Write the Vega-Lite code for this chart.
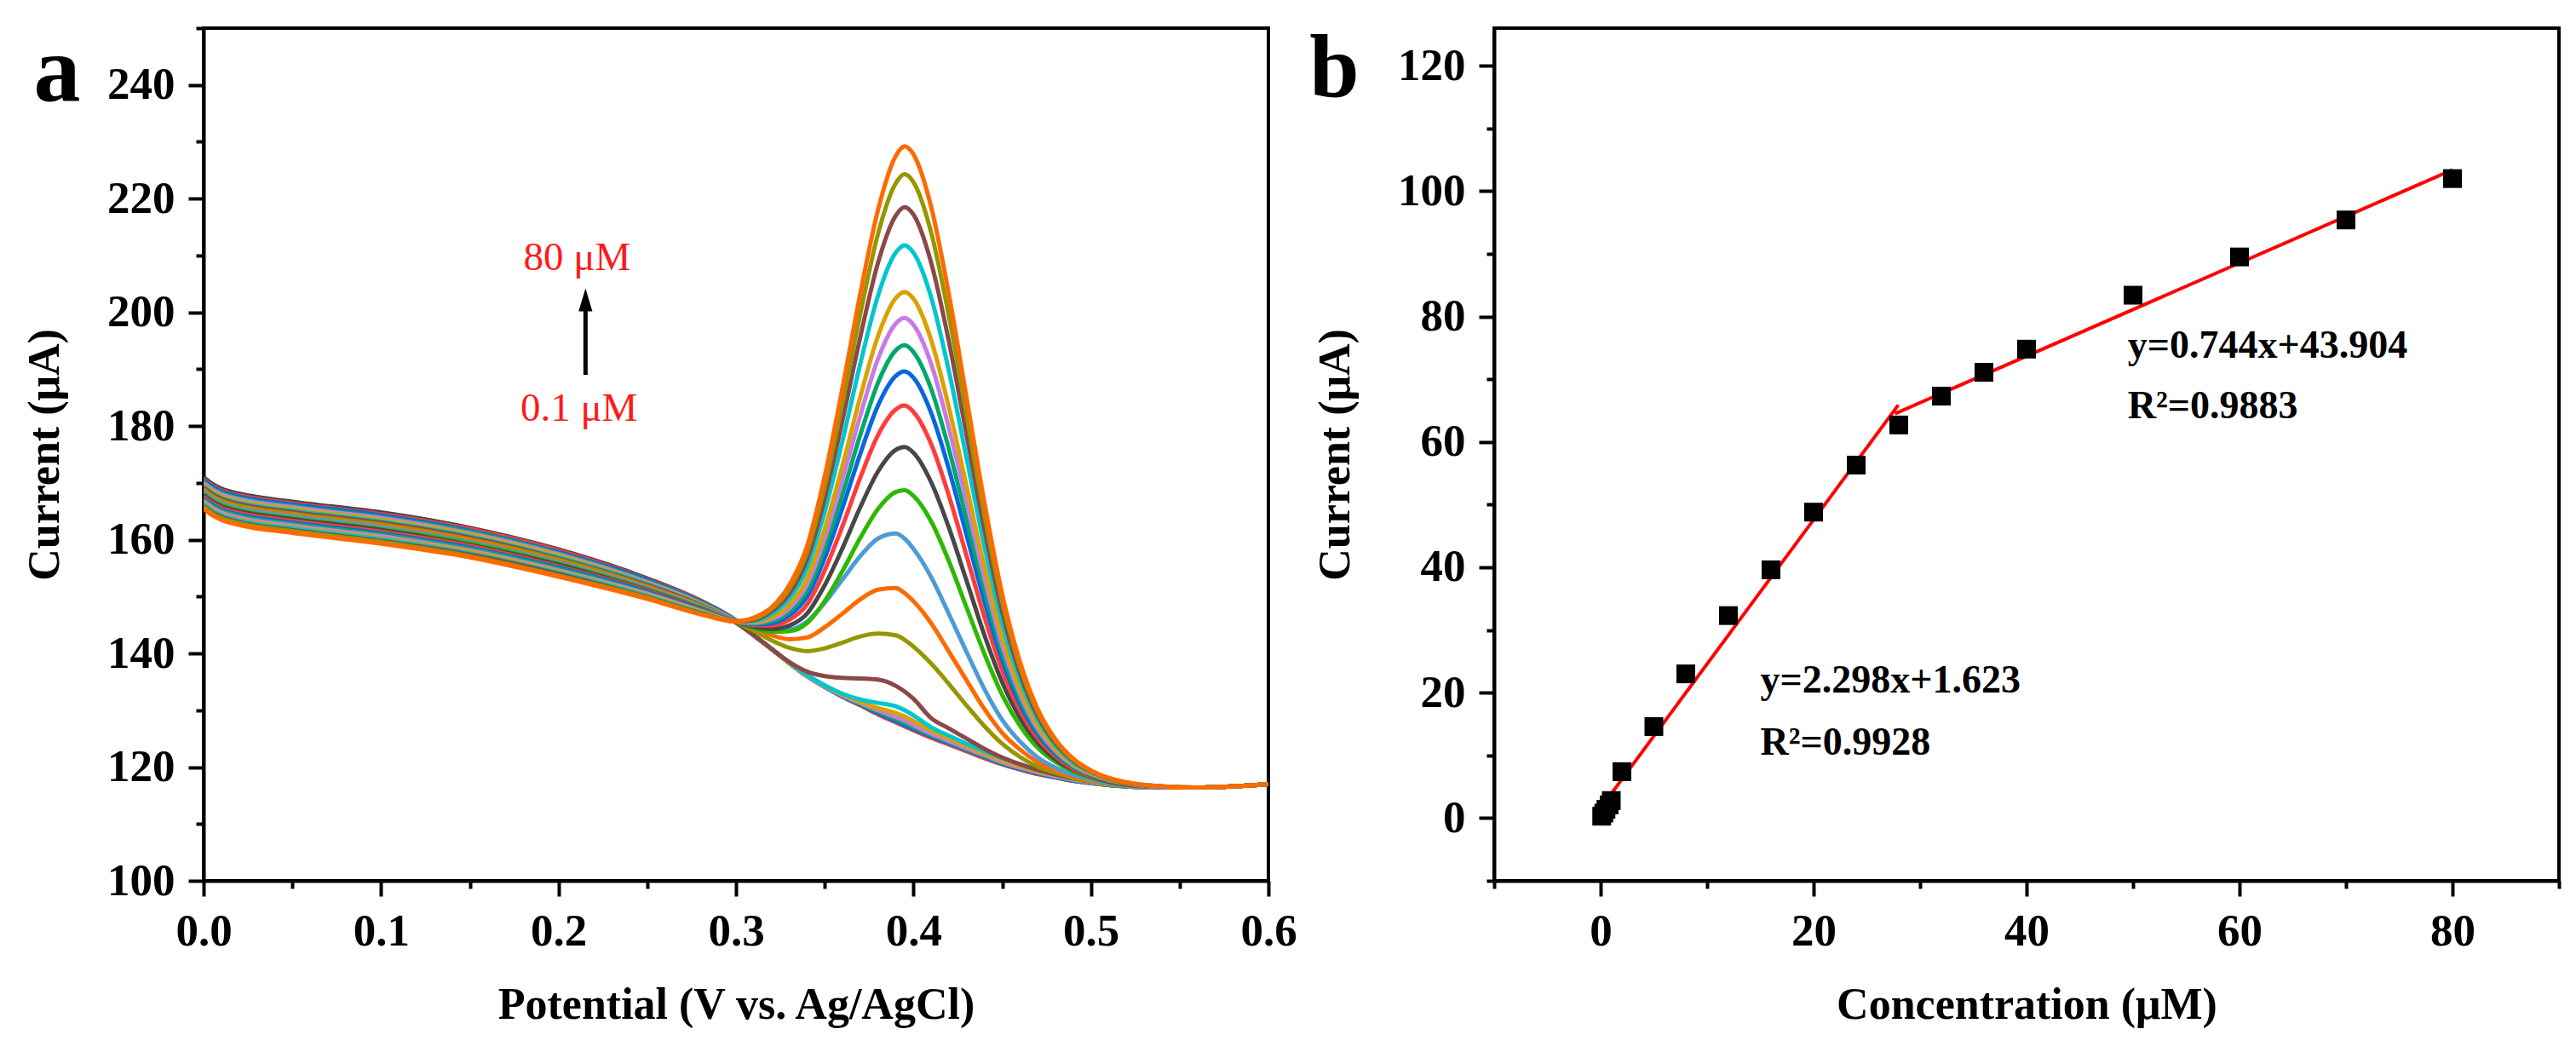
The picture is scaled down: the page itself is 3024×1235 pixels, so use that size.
{
  "$schema": "https://vega.github.io/schema/vega-lite/v6.json",
  "autosize": {"type": "pad"},
  "padding": {"left": 24, "top": 5, "right": 5, "bottom": 5},
  "background": "white",
  "config": {
    "view": {"stroke": "black", "strokeWidth": 4},
    "font": "Liberation Serif",
    "axis": {
      "grid": false,
      "domainColor": "black",
      "domainWidth": 4,
      "tickColor": "black",
      "tickWidth": 4,
      "labelFont": "Liberation Serif",
      "labelFontSize": 53,
      "labelFontWeight": "bold",
      "labelColor": "black",
      "titleFont": "Liberation Serif",
      "titleFontSize": 52,
      "titleFontWeight": "bold",
      "titleColor": "black",
      "labelFlush": false,
      "labelOverlap": false
    },
    "axisX": {"labelPadding": 15, "titlePadding": 34},
    "axisY": {"labelPadding": 16, "titlePadding": 46}
  },
  "datasets": {
    "curves": [
      {"x":0,"c00":171.0,"c01":170.7,"c02":170.5,"c03":170.2,"c04":170.0,"c05":169.7,"c06":169.4,"c07":169.2,"c08":168.9,"c09":168.6,"c10":168.4,"c11":168.1,"c12":167.9,"c13":167.6,"c14":167.3,"c15":167.1,"c16":166.8,"c17":166.5,"c18":166.3,"c19":166.0,"c20":165.8,"c21":165.5},
      {"x":0.005,"c00":169.8,"c01":169.5,"c02":169.3,"c03":169.0,"c04":168.8,"c05":168.5,"c06":168.2,"c07":168.0,"c08":167.7,"c09":167.4,"c10":167.2,"c11":166.9,"c12":166.7,"c13":166.4,"c14":166.1,"c15":165.9,"c16":165.6,"c17":165.3,"c18":165.1,"c19":164.8,"c20":164.6,"c21":164.3},
      {"x":0.01,"c00":169.0,"c01":168.7,"c02":168.5,"c03":168.2,"c04":168.0,"c05":167.7,"c06":167.4,"c07":167.2,"c08":166.9,"c09":166.6,"c10":166.4,"c11":166.1,"c12":165.9,"c13":165.6,"c14":165.3,"c15":165.1,"c16":164.8,"c17":164.5,"c18":164.3,"c19":164.0,"c20":163.8,"c21":163.5},
      {"x":0.02,"c00":168.1,"c01":167.8,"c02":167.6,"c03":167.3,"c04":167.1,"c05":166.8,"c06":166.5,"c07":166.3,"c08":166.0,"c09":165.7,"c10":165.5,"c11":165.2,"c12":165.0,"c13":164.7,"c14":164.4,"c15":164.2,"c16":163.9,"c17":163.6,"c18":163.4,"c19":163.1,"c20":162.9,"c21":162.6},
      {"x":0.05,"c00":166.7,"c01":166.4,"c02":166.2,"c03":165.9,"c04":165.7,"c05":165.4,"c06":165.1,"c07":164.9,"c08":164.6,"c09":164.3,"c10":164.1,"c11":163.8,"c12":163.6,"c13":163.3,"c14":163.0,"c15":162.8,"c16":162.5,"c17":162.2,"c18":162.0,"c19":161.7,"c20":161.5,"c21":161.2},
      {"x":0.1,"c00":164.8,"c01":164.5,"c02":164.3,"c03":164.0,"c04":163.8,"c05":163.5,"c06":163.2,"c07":163.0,"c08":162.7,"c09":162.4,"c10":162.2,"c11":161.9,"c12":161.7,"c13":161.4,"c14":161.1,"c15":160.9,"c16":160.6,"c17":160.3,"c18":160.1,"c19":159.8,"c20":159.6,"c21":159.3},
      {"x":0.15,"c00":162.1,"c01":161.9,"c02":161.6,"c03":161.4,"c04":161.1,"c05":160.9,"c06":160.6,"c07":160.4,"c08":160.1,"c09":159.9,"c10":159.6,"c11":159.4,"c12":159.1,"c13":158.9,"c14":158.6,"c15":158.4,"c16":158.1,"c17":157.9,"c18":157.6,"c19":157.4,"c20":157.1,"c21":156.9},
      {"x":0.2,"c00":158.3,"c01":158.1,"c02":157.8,"c03":157.6,"c04":157.4,"c05":157.2,"c06":156.9,"c07":156.7,"c08":156.5,"c09":156.2,"c10":156.0,"c11":155.8,"c12":155.6,"c13":155.3,"c14":155.1,"c15":154.9,"c16":154.6,"c17":154.4,"c18":154.2,"c19":154.0,"c20":153.7,"c21":153.5},
      {"x":0.25,"c00":153.2,"c01":153.0,"c02":152.9,"c03":152.7,"c04":152.5,"c05":152.3,"c06":152.2,"c07":152.0,"c08":151.8,"c09":151.7,"c10":151.5,"c11":151.3,"c12":151.1,"c13":151.0,"c14":150.8,"c15":150.6,"c16":150.5,"c17":150.3,"c18":150.1,"c19":149.9,"c20":149.8,"c21":149.6},
      {"x":0.28,"c00":149.3,"c01":149.2,"c02":149.1,"c03":149.0,"c04":148.8,"c05":148.7,"c06":148.6,"c07":148.5,"c08":148.4,"c09":148.3,"c10":148.2,"c11":148.0,"c12":147.9,"c13":147.8,"c14":147.7,"c15":147.6,"c16":147.5,"c17":147.4,"c18":147.2,"c19":147.1,"c20":147.0,"c21":146.9},
      {"x":0.3,"c00":145.8,"c01":145.7,"c02":145.7,"c03":145.6,"c04":145.6,"c05":145.5,"c06":145.5,"c07":145.4,"c08":145.6,"c09":145.7,"c10":145.8,"c11":145.6,"c12":145.6,"c13":145.7,"c14":145.6,"c15":145.6,"c16":145.6,"c17":145.6,"c18":145.6,"c19":145.6,"c20":145.7,"c21":145.6},
      {"x":0.31,"c00":143.2,"c01":143.2,"c02":143.2,"c03":143.2,"c04":143.2,"c05":143.2,"c06":143.2,"c07":143.2,"c08":144.0,"c09":144.4,"c10":144.9,"c11":144.4,"c12":144.7,"c13":144.9,"c14":145.1,"c15":145.2,"c16":145.4,"c17":145.5,"c18":145.7,"c19":145.9,"c20":146.1,"c21":146.3},
      {"x":0.32,"c00":140.8,"c01":140.8,"c02":140.8,"c03":140.8,"c04":140.8,"c05":140.8,"c06":140.8,"c07":140.8,"c08":142.3,"c09":143.2,"c10":144.1,"c11":143.8,"c12":144.3,"c13":144.9,"c14":145.3,"c15":145.6,"c16":146.0,"c17":146.3,"c18":146.9,"c19":147.4,"c20":147.8,"c21":148.1},
      {"x":0.33,"c00":138.3,"c01":138.3,"c02":138.3,"c03":138.3,"c04":138.3,"c05":138.3,"c06":138.4,"c07":138.5,"c08":141.0,"c09":142.5,"c10":144.2,"c11":143.9,"c12":144.9,"c13":145.9,"c14":146.7,"c15":147.3,"c16":147.9,"c17":148.5,"c18":149.6,"c19":150.5,"c20":151.3,"c21":152.0},
      {"x":0.34,"c00":136.0,"c01":136.0,"c02":136.0,"c03":136.0,"c04":136.0,"c05":136.1,"c06":136.2,"c07":136.8,"c08":140.4,"c09":142.8,"c10":145.6,"c11":145.3,"c12":147.0,"c13":148.6,"c14":150.0,"c15":151.0,"c16":152.1,"c17":153.1,"c18":155.0,"c19":156.5,"c20":157.8,"c21":158.8},
      {"x":0.35,"c00":134.1,"c01":134.1,"c02":134.1,"c03":134.1,"c04":134.2,"c05":134.3,"c06":134.4,"c07":136.0,"c08":140.9,"c09":144.6,"c10":148.9,"c11":149.2,"c12":152.0,"c13":154.6,"c14":156.8,"c15":158.5,"c16":160.2,"c17":161.9,"c18":164.9,"c19":167.3,"c20":169.4,"c21":171.2},
      {"x":0.36,"c00":132.4,"c01":132.4,"c02":132.4,"c03":132.5,"c04":132.6,"c05":132.7,"c06":132.9,"c07":135.7,"c08":141.9,"c09":147.0,"c10":153.0,"c11":154.5,"c12":158.5,"c13":162.4,"c14":165.6,"c15":168.0,"c16":170.6,"c17":173.0,"c18":177.4,"c19":181.0,"c20":184.1,"c21":186.7},
      {"x":0.37,"c00":130.9,"c01":130.9,"c02":131.0,"c03":131.1,"c04":131.3,"c05":131.5,"c06":131.9,"c07":135.6,"c08":143.0,"c09":149.5,"c10":157.1,"c11":160.3,"c12":165.7,"c13":170.9,"c14":175.1,"c15":178.4,"c16":181.8,"c17":185.1,"c18":190.9,"c19":195.6,"c20":199.7,"c21":203.2},
      {"x":0.38,"c00":129.3,"c01":129.3,"c02":129.5,"c03":129.7,"c04":130.0,"c05":130.4,"c06":131.3,"c07":135.4,"c08":143.5,"c09":151.2,"c10":160.2,"c11":165.4,"c12":172.0,"c13":178.4,"c14":183.6,"c15":187.6,"c16":191.8,"c17":195.8,"c18":202.9,"c19":208.7,"c20":213.8,"c21":218.0},
      {"x":0.39,"c00":127.9,"c01":127.9,"c02":128.1,"c03":128.4,"c04":128.8,"c05":129.5,"c06":130.7,"c07":134.3,"c08":143.2,"c09":151.5,"c10":161.1,"c11":168.4,"c12":175.8,"c13":182.9,"c14":188.8,"c15":193.3,"c16":198.0,"c17":202.5,"c18":210.5,"c19":217.0,"c20":222.7,"c21":227.5},
      {"x":0.395,"c00":127.2,"c01":127.2,"c02":127.4,"c03":127.7,"c04":128.2,"c05":128.9,"c06":130.0,"c07":133.3,"c08":142.4,"c09":150.6,"c10":160.2,"c11":168.7,"c12":176.3,"c13":183.6,"c14":189.6,"c15":194.2,"c16":199.0,"c17":203.6,"c18":211.8,"c19":218.5,"c20":224.3,"c21":229.2},
      {"x":0.4,"c00":126.5,"c01":126.5,"c02":126.7,"c03":127.0,"c04":127.4,"c05":128.1,"c06":129.1,"c07":132.0,"c08":141.2,"c09":149.2,"c10":158.4,"c11":167.7,"c12":175.3,"c13":182.5,"c14":188.5,"c15":193.0,"c16":197.8,"c17":202.4,"c18":210.5,"c19":217.2,"c20":222.9,"c21":227.8},
      {"x":0.41,"c00":125.2,"c01":125.2,"c02":125.4,"c03":125.6,"c04":125.9,"c05":126.4,"c06":127.0,"c07":128.6,"c08":138.2,"c09":145.3,"c10":153.4,"c11":163.2,"c12":170.1,"c13":176.8,"c14":182.3,"c15":186.5,"c16":190.9,"c17":195.1,"c18":202.6,"c19":208.7,"c20":214.0,"c21":218.5},
      {"x":0.42,"c00":124.0,"c01":124.0,"c02":124.2,"c03":124.4,"c04":124.6,"c05":125.0,"c06":125.5,"c07":126.8,"c08":134.6,"c09":140.3,"c10":146.9,"c11":156.2,"c12":162.1,"c13":167.7,"c14":172.4,"c15":175.9,"c16":179.6,"c17":183.2,"c18":189.6,"c19":194.8,"c20":199.3,"c21":203.1},
      {"x":0.43,"c00":122.8,"c01":122.8,"c02":123.0,"c03":123.1,"c04":123.3,"c05":123.7,"c06":124.1,"c07":125.0,"c08":130.8,"c09":135.2,"c10":140.2,"c11":148.0,"c12":152.7,"c13":157.1,"c14":160.7,"c15":163.5,"c16":166.5,"c17":169.3,"c18":174.2,"c19":178.3,"c20":181.8,"c21":184.8},
      {"x":0.44,"c00":121.6,"c01":121.6,"c02":121.8,"c03":121.9,"c04":122.1,"c05":122.4,"c06":122.8,"c07":123.2,"c08":127.2,"c09":130.2,"c10":133.7,"c11":139.9,"c12":143.2,"c13":146.4,"c14":149.1,"c15":151.1,"c16":153.2,"c17":155.2,"c18":158.8,"c19":161.8,"c20":164.3,"c21":166.5},
      {"x":0.45,"c00":120.5,"c01":120.5,"c02":120.6,"c03":120.7,"c04":120.9,"c05":121.2,"c06":121.6,"c07":121.7,"c08":124.1,"c09":126.0,"c10":128.3,"c11":132.7,"c12":134.9,"c13":137.0,"c14":138.8,"c15":140.1,"c16":141.5,"c17":142.9,"c18":145.3,"c19":147.3,"c20":149.0,"c21":150.4},
      {"x":0.46,"c00":119.6,"c01":119.6,"c02":119.7,"c03":119.8,"c04":119.9,"c05":120.2,"c06":120.5,"c07":120.5,"c08":121.8,"c09":123.1,"c10":124.5,"c11":127.3,"c12":128.7,"c13":130.0,"c14":131.1,"c15":132.0,"c16":132.9,"c17":133.7,"c18":135.3,"c19":136.5,"c20":137.6,"c21":138.5},
      {"x":0.47,"c00":118.8,"c01":118.8,"c02":118.9,"c03":119.0,"c04":119.1,"c05":119.3,"c06":119.5,"c07":119.5,"c08":120.1,"c09":120.9,"c10":121.7,"c11":123.4,"c12":124.3,"c13":125.1,"c14":125.8,"c15":126.3,"c16":126.8,"c17":127.4,"c18":128.3,"c19":129.0,"c20":129.7,"c21":130.2},
      {"x":0.48,"c00":118.2,"c01":118.2,"c02":118.2,"c03":118.3,"c04":118.4,"c05":118.6,"c06":118.7,"c07":118.7,"c08":119.0,"c09":119.4,"c10":119.9,"c11":120.9,"c12":121.4,"c13":121.9,"c14":122.3,"c15":122.6,"c16":122.9,"c17":123.2,"c18":123.8,"c19":124.2,"c20":124.6,"c21":124.9},
      {"x":0.49,"c00":117.6,"c01":117.6,"c02":117.6,"c03":117.7,"c04":117.8,"c05":117.9,"c06":118.0,"c07":118.0,"c08":118.1,"c09":118.3,"c10":118.6,"c11":119.2,"c12":119.5,"c13":119.7,"c14":120.0,"c15":120.1,"c16":120.3,"c17":120.5,"c18":120.8,"c19":121.1,"c20":121.3,"c21":121.5},
      {"x":0.5,"c00":117.2,"c01":117.2,"c02":117.2,"c03":117.2,"c04":117.3,"c05":117.4,"c06":117.5,"c07":117.5,"c08":117.5,"c09":117.6,"c10":117.8,"c11":118.1,"c12":118.3,"c13":118.4,"c14":118.6,"c15":118.7,"c16":118.8,"c17":118.9,"c18":119.1,"c19":119.2,"c20":119.3,"c21":119.4},
      {"x":0.52,"c00":116.6,"c01":116.6,"c02":116.6,"c03":116.6,"c04":116.7,"c05":116.7,"c06":116.8,"c07":116.9,"c08":116.7,"c09":116.7,"c10":116.8,"c11":116.9,"c12":116.9,"c13":117.0,"c14":117.0,"c15":117.1,"c16":117.1,"c17":117.1,"c18":117.2,"c19":117.2,"c20":117.3,"c21":117.3},
      {"x":0.54,"c00":116.4,"c01":116.4,"c02":116.4,"c03":116.4,"c04":116.4,"c05":116.4,"c06":116.5,"c07":116.5,"c08":116.4,"c09":116.4,"c10":116.4,"c11":116.5,"c12":116.5,"c13":116.5,"c14":116.5,"c15":116.5,"c16":116.5,"c17":116.6,"c18":116.6,"c19":116.6,"c20":116.6,"c21":116.6},
      {"x":0.56,"c00":116.4,"c01":116.4,"c02":116.4,"c03":116.4,"c04":116.4,"c05":116.4,"c06":116.4,"c07":116.4,"c08":116.4,"c09":116.4,"c10":116.4,"c11":116.4,"c12":116.4,"c13":116.4,"c14":116.4,"c15":116.4,"c16":116.4,"c17":116.4,"c18":116.4,"c19":116.4,"c20":116.4,"c21":116.4},
      {"x":0.58,"c00":116.6,"c01":116.6,"c02":116.6,"c03":116.6,"c04":116.6,"c05":116.6,"c06":116.6,"c07":116.6,"c08":116.6,"c09":116.6,"c10":116.6,"c11":116.6,"c12":116.6,"c13":116.6,"c14":116.6,"c15":116.6,"c16":116.6,"c17":116.6,"c18":116.6,"c19":116.6,"c20":116.6,"c21":116.6},
      {"x":0.6,"c00":117.0,"c01":117.0,"c02":117.0,"c03":117.0,"c04":117.0,"c05":117.0,"c06":117.0,"c07":117.0,"c08":117.0,"c09":117.0,"c10":117.0,"c11":117.0,"c12":117.0,"c13":117.0,"c14":117.0,"c15":117.0,"c16":117.0,"c17":117.0,"c18":117.0,"c19":117.0,"c20":117.0,"c21":117.0}
    ],
    "arrow": [{"x": 0.2152, "y": 189.0, "y2": 200.5}],
    "arrowHead": [{"x": 0.2152, "y": 202.2}],
    "notesA": [
      {"x": 0.2104, "y": 207.5, "label": "80 μM"},
      {"x": 0.2115, "y": 180.9, "label": "0.1 μM"}
    ],
    "letterA": [{"x": -0.0826, "y": 237.3, "label": "a"}],
    "points": [
      {"x": 0.1, "y": 0.3}, {"x": 0.3, "y": 0.8}, {"x": 0.5, "y": 1.4}, {"x": 0.8, "y": 2.1},
      {"x": 1, "y": 2.8}, {"x": 2, "y": 7.4}, {"x": 5, "y": 14.6}, {"x": 8, "y": 23.0},
      {"x": 12, "y": 32.3}, {"x": 16, "y": 39.6}, {"x": 20, "y": 48.8}, {"x": 24, "y": 56.3},
      {"x": 28, "y": 62.7}, {"x": 32, "y": 67.3}, {"x": 36, "y": 71.1}, {"x": 40, "y": 74.8},
      {"x": 50, "y": 83.4}, {"x": 60, "y": 89.5}, {"x": 70, "y": 95.4}, {"x": 80, "y": 102.0}
    ],
    "fits": [
      {"seg": "low", "x": 0.05, "y": 1.7},
      {"seg": "low", "x": 27.96, "y": 65.9},
      {"seg": "high", "x": 27.65, "y": 64.5},
      {"seg": "high", "x": 80.0, "y": 103.4}
    ],
    "notesB": [
      {"x": 49.5, "y": 75.3, "label": "y=0.744x+43.904"},
      {"x": 49.5, "y": 65.7, "label": "R²=0.9883"},
      {"x": 15.0, "y": 21.9, "label": "y=2.298x+1.623"},
      {"x": 15.0, "y": 12.0, "label": "R²=0.9928"}
    ],
    "letterB": [{"x": -25, "y": 115, "label": "b"}]
  },
  "spacing": 265,
  "bounds": "flush",
  "hconcat": [
    {
      "width": 1250,
      "height": 1001,
      "encoding": {
        "x": {
          "field": "x",
          "type": "quantitative",
          "scale": {"domain": [0, 0.6], "nice": false, "zero": false},
          "axis": {
            "title": "Potential (V vs. Ag/AgCl)",
            "values": [0, 0.05, 0.1, 0.15, 0.2, 0.25, 0.3, 0.35, 0.4, 0.45, 0.5, 0.55, 0.6],
            "format": ".1f",
            "labelExpr": "abs(round(datum.value * 100)) % 10 === 0 ? datum.label : ''",
            "tickSize": {"condition": {"test": "abs(round(datum.value * 100)) % 10 === 0", "value": 18}, "value": 9}
          }
        },
        "y": {
          "field": "y",
          "type": "quantitative",
          "scale": {"domain": [100, 250], "nice": false, "zero": false},
          "axis": {
            "title": "Current (μA)",
            "values": [100, 110, 120, 130, 140, 150, 160, 170, 180, 190, 200, 210, 220, 230, 240, 250],
            "labelExpr": "datum.value % 20 === 0 ? datum.label : ''",
            "tickSize": {"condition": {"test": "datum.value % 20 === 0", "value": 18}, "value": 9}
          }
        }
      },
      "layer": [
        {
          "data": {"name": "curves"},
          "transform": [
            {"fold": ["c00","c01","c02","c03","c04","c05","c06","c07","c08","c09","c10","c11","c12","c13","c14","c15","c16","c17","c18","c19","c20","c21"], "as": ["key", "y"]}
          ],
          "mark": {"type": "line", "strokeWidth": 5, "interpolate": "monotone", "clip": true},
          "encoding": {
            "color": {
              "field": "key",
              "type": "nominal",
              "legend": null,
              "scale": {
                "domain": ["c00","c01","c02","c03","c04","c05","c06","c07","c08","c09","c10","c11","c12","c13","c14","c15","c16","c17","c18","c19","c20","c21"],
                "range": ["#474747","#ff3c3c","#0a66dd","#00a86b","#c77be3","#dba100","#00c6cf","#8c4848","#969600","#ff6a00","#4d9bd6","#2eb800","#474747","#ff3c3c","#0a66dd","#00a86b","#c77be3","#dba100","#00c6cf","#8c4848","#969600","#ff6a00"]
              }
            }
          }
        },
        {
          "data": {"name": "arrow"},
          "mark": {"type": "rule", "color": "black", "strokeWidth": 5},
          "encoding": {"y2": {"field": "y2"}}
        },
        {
          "data": {"name": "arrowHead"},
          "mark": {"type": "point", "shape": "M0,-1L0.6,1L-0.6,1Z", "filled": true, "color": "black", "size": 729, "opacity": 1}
        },
        {
          "data": {"name": "notesA"},
          "mark": {"type": "text", "color": "#ff1a1a", "fontSize": 47, "font": "Liberation Serif", "baseline": "alphabetic", "align": "center"},
          "encoding": {"text": {"field": "label"}}
        },
        {
          "data": {"name": "letterA"},
          "mark": {"type": "text", "color": "black", "fontSize": 110, "fontWeight": "bold", "font": "Liberation Serif", "baseline": "alphabetic", "align": "center"},
          "encoding": {"text": {"field": "label"}}
        }
      ]
    },
    {
      "width": 1250,
      "height": 1001,
      "encoding": {
        "x": {
          "field": "x",
          "type": "quantitative",
          "scale": {"domain": [-10, 90], "nice": false, "zero": false},
          "axis": {
            "title": "Concentration (μM)",
            "values": [-10, 0, 10, 20, 30, 40, 50, 60, 70, 80, 90],
            "labelExpr": "datum.value % 20 === 0 ? datum.label : ''",
            "tickSize": {"condition": {"test": "datum.value % 20 === 0", "value": 18}, "value": 9}
          }
        },
        "y": {
          "field": "y",
          "type": "quantitative",
          "scale": {"domain": [-10, 126], "nice": false, "zero": false},
          "axis": {
            "title": "Current (μA)",
            "values": [-10, 0, 10, 20, 30, 40, 50, 60, 70, 80, 90, 100, 110, 120],
            "labelExpr": "datum.value % 20 === 0 ? datum.label : ''",
            "tickSize": {"condition": {"test": "datum.value % 20 === 0", "value": 18}, "value": 9}
          }
        }
      },
      "layer": [
        {
          "data": {"name": "fits"},
          "mark": {"type": "line", "color": "#ff0000", "strokeWidth": 4},
          "encoding": {"detail": {"field": "seg"}}
        },
        {
          "data": {"name": "points"},
          "mark": {"type": "point", "shape": "square", "filled": true, "color": "black", "size": 484, "opacity": 1}
        },
        {
          "data": {"name": "notesB"},
          "mark": {"type": "text", "color": "black", "fontSize": 46, "fontWeight": "bold", "font": "Liberation Serif", "baseline": "middle", "align": "left"},
          "encoding": {"text": {"field": "label"}}
        },
        {
          "data": {"name": "letterB"},
          "mark": {"type": "text", "color": "black", "fontSize": 105, "fontWeight": "bold", "font": "Liberation Serif", "baseline": "alphabetic", "align": "center"},
          "encoding": {"text": {"field": "label"}}
        }
      ]
    }
  ]
}
